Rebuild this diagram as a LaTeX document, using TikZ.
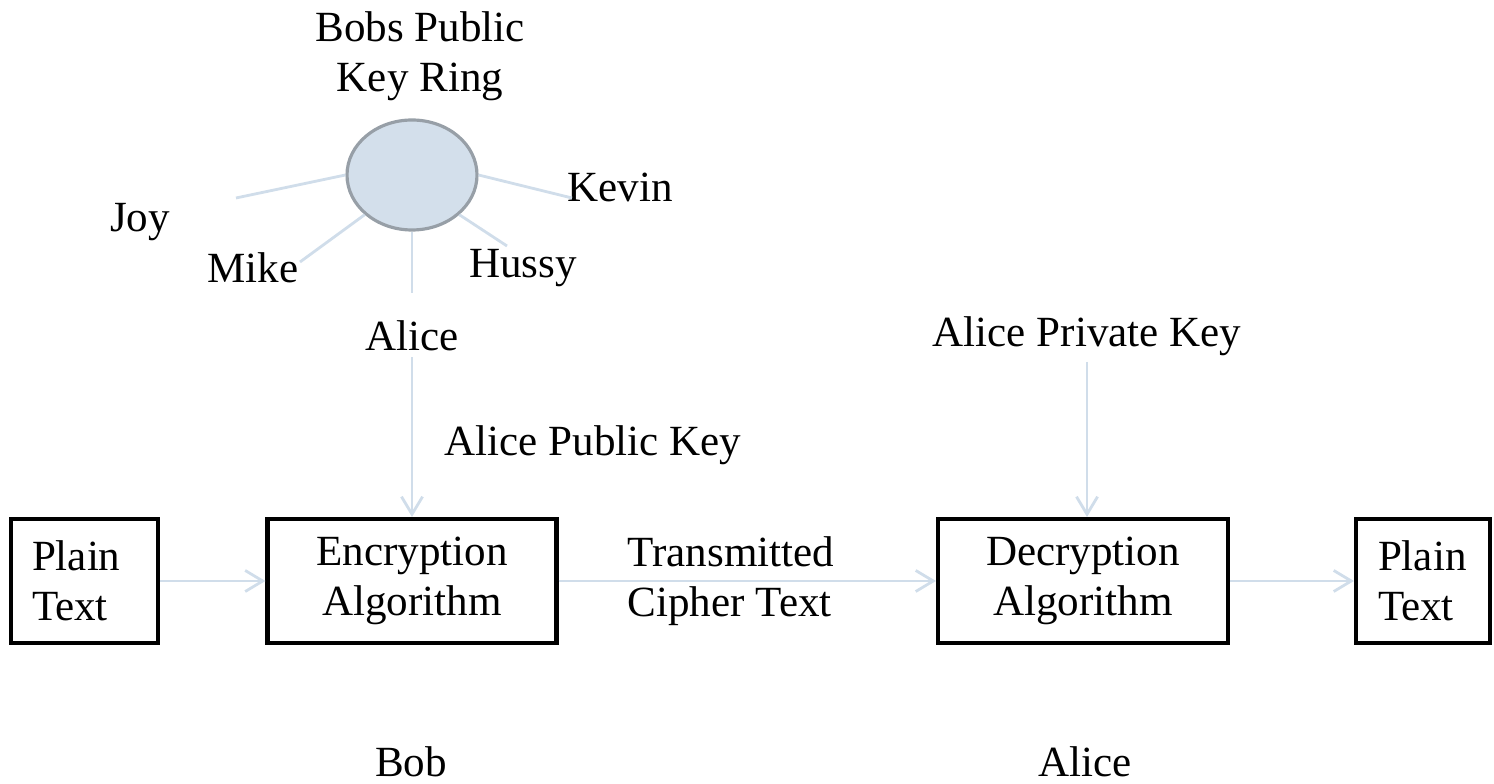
\documentclass[tikz,border=0pt]{standalone}
\usepackage{fontspec}
\setmainfont{Liberation Serif}
\usetikzlibrary{arrows.meta,shapes.geometric}
\definecolor{wirecol}{HTML}{D0DDEA}
\definecolor{ringfill}{HTML}{D3DFEB}
\definecolor{ringline}{HTML}{979FA7}
\tikzstyle{block}=[draw,line width=2.3pt,minimum height=2.48cm,inner sep=0pt]
\tikzstyle{wire}=[draw=wirecol,line width=1.6pt]
\tikzstyle{flow}=[wire,-{Straight Barb[length=10pt,width=12pt]}]

\begin{document}
\begin{tikzpicture}[every node/.style={font=\fontsize{24.5}{28.5}\selectfont}]

    \useasboundingbox (0,0) rectangle (29.88,15.68);

    % key ring
    \node[align=center] (ringname) at (8.4,14.56) {Bobs Public\\Key Ring};
    \node[ellipse, draw=ringline, fill=ringfill, line width=1.8pt,
          minimum width=2.6cm, minimum height=2.2cm] (ring) at (8.24,12.18) {};

    \foreach \pos/\name/\txt in {{(2.8,11.24)/joy/Joy}, {(5.06,10.32)/mike/Mike},
        {(10.46,10.32)/hussy/Hussy}, {(12.4,11.94)/kevin/Kevin}, {(8.24,8.96)/alice/Alice}}
        \node (\name) at \pos {\txt};

    \coordinate (joyend) at (4.72,11.72);
    \coordinate (mikeend) at (6.0,10.44);
    \coordinate (aliceend) at (8.24,9.82);
    \coordinate (hussyend) at (10.14,10.76);
    \coordinate (kevinend) at (11.44,11.72);

    \draw[wire] (ring.180) -- (joyend);
    \draw[wire] (ring.220) -- (mikeend);
    \draw[wire] (ring.south) -- (aliceend);
    \draw[wire] (ring.320) -- (hussyend);
    \draw[wire] (ring.0) -- (kevinend);

    % boxes
    \node[block, minimum width=2.94cm, text width=2.1cm, align=left] (plainL) at (1.69,4.06) {Plain\\Text};
    \node[block, minimum width=5.78cm, align=center] (enc) at (8.24,4.06) {Encryption\\Algorithm};
    \node[block, minimum width=5.8cm, align=center] (dec) at (21.66,4.06) {Decryption\\Algorithm};
    \node[block, minimum width=2.68cm, text width=1.8cm, align=left] (plainR) at (28.46,4.06) {Plain\\Text};

    \node[align=left, anchor=west] (cipher) at (12.43,4.06) {Transmitted\\Cipher Text};
    \node (pubkey) at (11.86,6.78) {Alice Public Key};
    \node (privkey) at (21.74,8.96) {Alice Private Key};

    \node (bob) at (8.22,0.44) {Bob};
    \node (alicebot) at (21.7,0.44) {Alice};

    \draw[flow] (plainL) -- (enc);
    \draw[flow] (enc) -- (dec);
    \draw[flow] (dec) -- (plainR);
    \draw[flow] (alice) -- (enc);
    \draw[flow] (privkey) -- (privkey |- dec.north);

\end{tikzpicture}
\end{document}
